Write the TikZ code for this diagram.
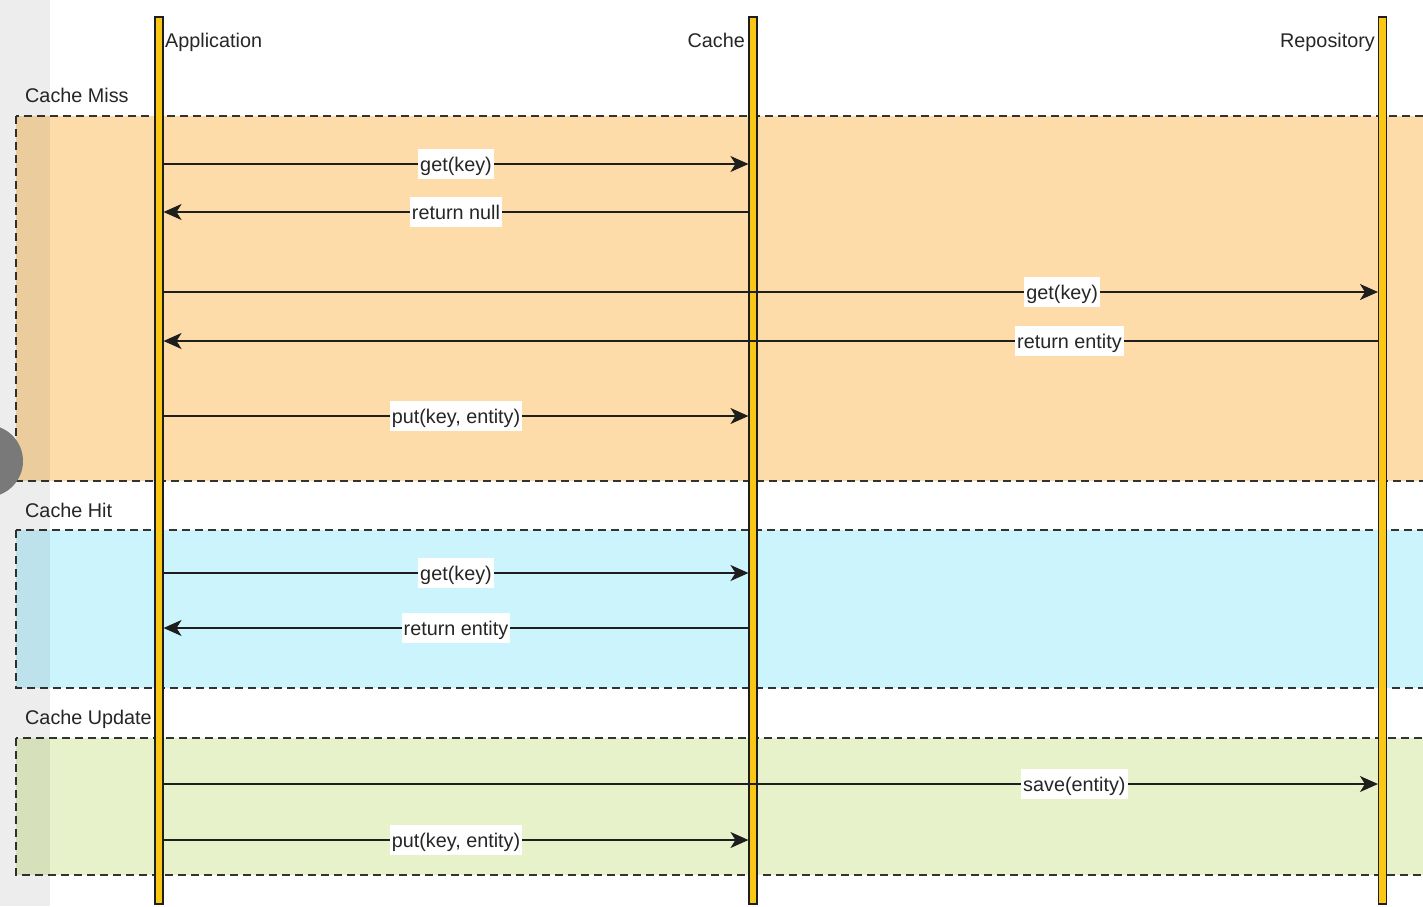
\documentclass[tikz,border=0pt]{standalone}
\usepackage{fontspec}
\setmainfont{Liberation Sans}
\usetikzlibrary{arrows.meta}
\definecolor{missfill}{HTML}{FDDCA9}
\definecolor{hitfill}{HTML}{CCF4FD}
\definecolor{updfill}{HTML}{E7F2CA}
\definecolor{lifeyellow}{HTML}{FAC814}
\definecolor{inkc}{HTML}{1E1E1E}
\definecolor{textc}{HTML}{262626}
\newcommand{\lblfont}{\fontsize{19.8pt}{23pt}\selectfont}
\begin{document}
\begin{tikzpicture}[x=1pt,y=-1pt,
  lifeline/.style={rectangle, draw=inkc, fill=lifeyellow, line width=1.1pt,
    minimum width=8pt, minimum height=887pt, inner sep=0pt},
  sect/.style={draw=black!80, line width=1.4pt, dash pattern=on 8pt off 5pt},
  msg/.style={draw=inkc, line width=1.4pt, -{Stealth[length=18pt,width=16pt,inset=5pt]}},
  lbl/.style={fill=white, inner xsep=2pt, inner ysep=4pt, text height=18pt, text depth=4pt,
    font=\lblfont, text=textc},
  title/.style={inner sep=0pt, font=\lblfont, text=textc}]
\useasboundingbox (0,0) rectangle (1423,906);
\clip (0,0) rectangle (1423,906);
\fill[white] (0,0) rectangle (1423,906);

% sections
\draw[sect, fill=missfill] (16,116) rectangle (1440,481);
\draw[sect, fill=hitfill]  (16,530) rectangle (1440,688);
\draw[sect, fill=updfill]  (16,738) rectangle (1440,875);

\node[title, anchor=base west] (tmiss) at (25,102) {Cache Miss};
\node[title, anchor=base west] (thit)  at (25,517) {Cache Hit};
\node[title, anchor=base west] (tupd)  at (25,724) {Cache Update};

% lifelines
\node[lifeline] (app)   at (159,460.5) {};
\node[lifeline] (cache) at (753,460.5) {};
\node[lifeline] (repo)  at (1382.5,460.5) {};

\node[title, anchor=base west] (tapp)   at (165,47) {Application};
\node[title, anchor=base east] (tcache) at (745,47) {Cache};
\node[title, anchor=base east] (trepo)  at (1375,47) {Repository};

% messages
\draw[msg] (app.east |- 0,164) -- (cache.west |- 0,164) node[lbl, midway] (m1) {get(key)};
\draw[msg] (cache.west |- 0,212) -- (app.east |- 0,212) node[lbl, midway] (m2) {return null};
\draw[msg] (app.east |- 0,292) -- (repo.west |- 0,292) node[lbl, pos=0.74] (m3) {get(key)};
\draw[msg] (repo.west |- 0,341) -- (app.east |- 0,341) node[lbl, pos=0.254] (m4) {return entity};
\draw[msg] (app.east |- 0,416) -- (cache.west |- 0,416) node[lbl, midway] (m5) {put(key, entity)};
\draw[msg] (app.east |- 0,573) -- (cache.west |- 0,573) node[lbl, midway] (m6) {get(key)};
\draw[msg] (cache.west |- 0,628) -- (app.east |- 0,628) node[lbl, midway] (m7) {return entity};
\draw[msg] (app.east |- 0,784) -- (repo.west |- 0,784) node[lbl, pos=0.75] (m8) {save(entity)};
\draw[msg] (app.east |- 0,840) -- (cache.west |- 0,840) node[lbl, midway] (m9) {put(key, entity)};

% screenshot overlay at the left edge
\fill[black, opacity=0.07] (0,0) rectangle (50,906);
\fill[gray!95!black] (-13,461) circle[radius=36];
\end{tikzpicture}
\end{document}
